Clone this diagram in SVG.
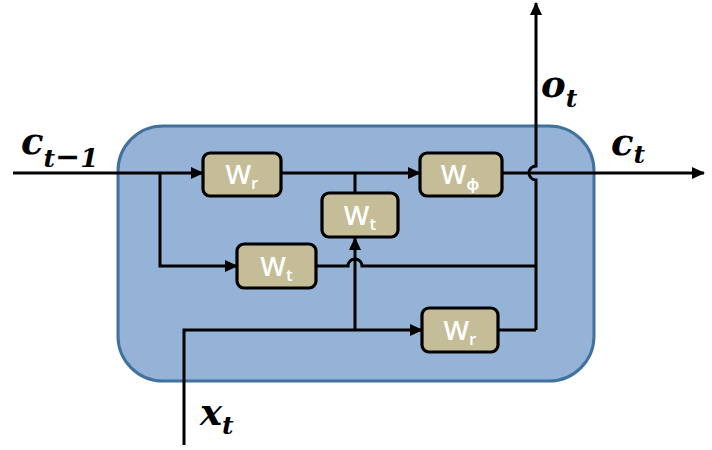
<svg xmlns="http://www.w3.org/2000/svg" width="712" height="450" viewBox="0 0 712 450">
  <style>
    .cell { fill: #95B3D7; stroke: #41719C; stroke-width: 3; }
    .box { fill: #C4BD97; stroke: #000; stroke-width: 3.2; }
    .wlab { font-family: "Open Sans", "Liberation Sans", sans-serif; font-size: 27px; font-weight: 600; fill: #fff; text-anchor: middle; }
    .sub { font-size: 17px; }
    .wire { fill: none; stroke: #000; stroke-width: 3; }
    .var { font-family: "DejaVu Serif", "Liberation Serif", serif; font-weight: bold; font-style: italic; fill: #000; font-size: 37px; }
    .vsub { font-size: 25px; }
    .minus { font-family: "DejaVu Sans", sans-serif; font-style: normal; font-size: 30px; }
  </style>
  <defs>
    <marker id="arrow" markerUnits="userSpaceOnUse" markerWidth="14" markerHeight="12" refX="12" refY="6" orient="auto">
      <path d="M0,0 L13,6 L0,12 Z" fill="#000"/>
    </marker>
  </defs>

  <!-- cell body -->
  <rect class="cell" x="118" y="126" width="476" height="255" rx="45" ry="45"/>

  <!-- wiring -->
  <g id="connectors">
    <path class="wire" d="M13,173 H203" marker-end="url(#arrow)"/>
    <path class="wire" d="M160,173 V266 H237" marker-end="url(#arrow)"/>
    <path class="wire" d="M281,173 H420" marker-end="url(#arrow)"/>
    <path class="wire" d="M355,193 V173"/>
    <path class="wire" d="M502,173 H704" marker-end="url(#arrow)"/>
    <path class="wire" d="M536,330 V180 A7,7 0 0 1 536,166 V3" marker-end="url(#arrow)"/>
    <path class="wire" d="M498,330 H536"/>
    <path class="wire" d="M316,266 H348 A7,7 0 0 1 362,266 H536"/>
    <path class="wire" d="M184,445 V330 H422" marker-end="url(#arrow)"/>
    <path class="wire" d="M355,330 V238" marker-end="url(#arrow)"/>
  </g>

  <!-- weight blocks -->
  <g id="w-r-top">
    <rect class="box" x="203" y="153" width="78" height="43" rx="7"/>
    <text class="wlab" x="242" y="184">W<tspan class="sub" dy="5">r</tspan></text>
  </g>
  <g id="w-phi">
    <rect class="box" x="420" y="153" width="82" height="43" rx="7"/>
    <text class="wlab" x="460" y="184">W<tspan class="sub" dy="6">ϕ</tspan></text>
  </g>
  <g id="w-t-mid">
    <rect class="box" x="322" y="193" width="76" height="44" rx="7"/>
    <text class="wlab" x="360" y="225">W<tspan class="sub" dy="5">t</tspan></text>
  </g>
  <g id="w-t-low">
    <rect class="box" x="237" y="244" width="79" height="44" rx="7"/>
    <text class="wlab" x="276.5" y="276">W<tspan class="sub" dy="5">t</tspan></text>
  </g>
  <g id="w-r-low">
    <rect class="box" x="422" y="308" width="76" height="44" rx="7"/>
    <text class="wlab" x="460" y="340">W<tspan class="sub" dy="5">r</tspan></text>
  </g>

  <!-- signal names -->
  <g id="labels">
    <text class="var" x="21" y="154">c<tspan class="vsub" dy="13" font-size="26">t</tspan><tspan class="minus">−</tspan><tspan font-size="26">1</tspan></text>
    <text class="var" x="541" y="97">o<tspan class="vsub" dy="10">t</tspan></text>
    <text class="var" x="611" y="155">c<tspan class="vsub" dy="8">t</tspan></text>
    <text class="var" x="200" y="425">x<tspan class="vsub" dy="9">t</tspan></text>
  </g>
</svg>
